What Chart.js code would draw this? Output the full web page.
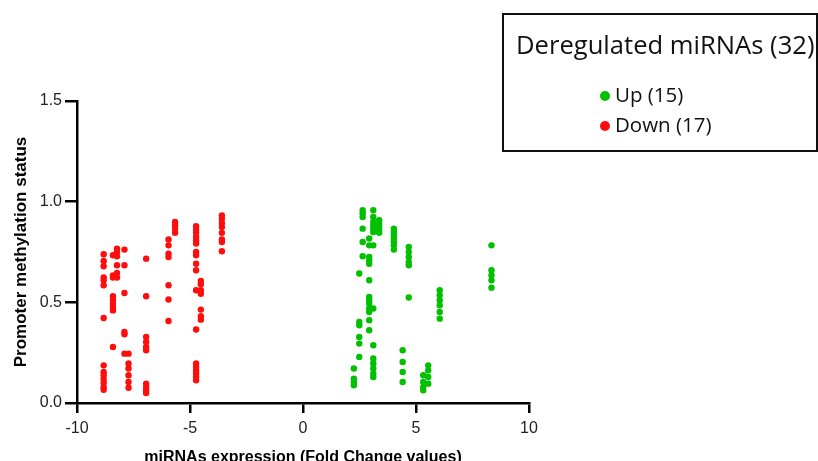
<!DOCTYPE html>
<html lang="en">
<head>
<meta charset="UTF-8">
<title>Deregulated miRNAs</title>
<script src="https://cdn.jsdelivr.net/npm/chart.js"></script>
<style>
  body { margin: 0; background: #fff; overflow: hidden; }
  .wrap { position: relative; width: 818px; height: 461px; }
  .legend-box {
    position: absolute; left: 502px; top: 13px;
    width: 312px; height: 135px;
    border: 2px solid #111;
    font-family: "Open Sans", sans-serif; color: #111;
  }
  .legend-title {
    position: absolute; left: 12px; top: 17px;
    font-size: 25.6px; line-height: 25px; white-space: nowrap;
  }
  .legend-item {
    position: absolute; left: 96px; height: 20px;
    font-size: 20.5px; line-height: 20px; white-space: nowrap;
    padding-left: 15px;
  }
  .legend-item .dot {
    position: absolute; left: 0; top: 7px;
    width: 10px; height: 10px; border-radius: 50%;
  }
</style>
</head>
<body>
<div class="wrap">
  <canvas id="grafico" width="818" height="461"></canvas>
  <div class="legend-box" id="legenda">
    <div class="legend-title">Deregulated miRNAs (32)</div>
  </div>
</div>

<script>
// fold change de cada miRNA (uma coluna de pontos por miRNA)
const downFC = [-8.82, -8.41, -8.23, -7.90, -7.72, -6.94, -5.95, -5.66, -4.73, -4.52, -3.59];
const downMeth = [
  [0.739, 0.705, 0.679, 0.623, 0.610, 0.585, 0.422, 0.187, 0.154, 0.138, 0.118, 0.099, 0.079, 0.066],
  [0.734, 0.634, 0.623, 0.530, 0.514, 0.494, 0.477, 0.460, 0.278],
  [0.767, 0.750, 0.729, 0.684, 0.646, 0.623],
  [0.762, 0.684, 0.546, 0.353, 0.341, 0.245],
  [0.245, 0.196, 0.171, 0.138, 0.104, 0.076],
  [0.717, 0.530, 0.328, 0.303, 0.278, 0.262, 0.096, 0.079, 0.063, 0.050],
  [0.812, 0.783, 0.742, 0.725, 0.585, 0.514, 0.407],
  [0.899, 0.883, 0.866, 0.845],
  [0.878, 0.861, 0.845, 0.825, 0.808, 0.792, 0.750, 0.734, 0.692, 0.659, 0.560, 0.365, 0.196, 0.179, 0.162, 0.146, 0.129, 0.113],
  [0.606, 0.590, 0.560, 0.543, 0.464, 0.431, 0.414],
  [0.932, 0.916, 0.894, 0.874, 0.845, 0.812, 0.800, 0.754]
];

const upFC = [2.25, 2.49, 2.64, 2.93, 3.11, 3.37, 4.02, 4.41, 4.68, 5.32, 5.54, 6.05, 8.34];
const upMeth = [
  [0.171, 0.121, 0.104, 0.088],
  [0.643, 0.402, 0.386, 0.328, 0.295, 0.229],
  [0.957, 0.941, 0.924, 0.866, 0.800, 0.729],
  [0.817, 0.783, 0.725, 0.709, 0.692, 0.610, 0.527, 0.510, 0.494, 0.469, 0.452, 0.411, 0.361],
  [0.957, 0.924, 0.899, 0.883, 0.866, 0.849, 0.783, 0.469, 0.287, 0.221, 0.196, 0.171, 0.146, 0.129],
  [0.908, 0.891, 0.874, 0.858, 0.845],
  [0.866, 0.849, 0.833, 0.817, 0.800, 0.783, 0.762],
  [0.262, 0.204, 0.154, 0.104],
  [0.775, 0.750, 0.725, 0.700, 0.684, 0.524],
  [0.138, 0.104, 0.079, 0.063],
  [0.187, 0.162, 0.129, 0.096],
  [0.560, 0.535, 0.510, 0.485, 0.452, 0.419],
  [0.783, 0.659, 0.634, 0.610, 0.573]
];

const xTicks = [-10, -5, 0, 5, 10];
const yTicks = [0, 0.5, 1.0, 1.5];
const seriesLabels = ['Up (15)', 'Down (17)'];

const verde = '#00c000';
const vermelho = '#ff0d0d';
const fonte = '"Liberation Sans", Arial, sans-serif';

function pontos(fc, meth) {
  const out = [];
  fc.forEach((x, i) => meth[i].forEach(y => out.push({ x: x, y: y })));
  return out;
}

const ctx = document.getElementById('grafico').getContext('2d');

const grafico = new Chart(ctx, {
  type: 'scatter',
  data: {
    datasets: [
      { label: seriesLabels[0], data: pontos(upFC, upMeth), backgroundColor: verde, pointRadius: 3.2, borderWidth: 0 },
      { label: seriesLabels[1], data: pontos(downFC, downMeth), backgroundColor: vermelho, pointRadius: 3.2, borderWidth: 0 }
    ]
  },
  options: {
    responsive: false,
    animation: false,
    devicePixelRatio: 1,
    layout: { padding: { top: 101, right: 289, left: 0, bottom: 0 } },
    plugins: { legend: { display: false }, tooltip: { enabled: false } },
    scales: {
      x: {
        type: 'linear',
        min: xTicks[0],
        max: xTicks[xTicks.length - 1],
        afterBuildTicks: s => { s.ticks = xTicks.map(v => ({ value: v })); },
        afterFit: s => { s.height = 58; },
        ticks: { color: '#222', padding: 6, font: { family: fonte, size: 16 } },
        grid: { drawOnChartArea: false, tickLength: 10, color: '#000', lineWidth: 2.5 },
        border: { color: '#000', width: 2.5 },
        title: {
          display: true,
          text: 'miRNAs expression (Fold Change values)',
          color: '#000',
          font: { family: fonte, size: 16, weight: 'bold' },
          padding: { top: 0, bottom: -6 }
        }
      },
      y: {
        min: yTicks[0],
        max: yTicks[yTicks.length - 1],
        afterBuildTicks: s => { s.ticks = yTicks.map(v => ({ value: v })); },
        afterFit: s => { s.width = 77; },
        ticks: { color: '#222', padding: 3, font: { family: fonte, size: 16 }, callback: v => v.toFixed(1) },
        grid: { drawOnChartArea: false, tickLength: 12, color: '#000', lineWidth: 2.5 },
        border: { color: '#000', width: 2.5 },
        title: {
          display: true,
          text: 'Promoter methylation status',
          color: '#000',
          font: { family: fonte, size: 17, weight: 'bold' },
          padding: { top: 11, bottom: 0 }
        }
      }
    }
  }
});

// legenda em caixa, montada a partir dos datasets
const caixa = document.getElementById('legenda');
grafico.data.datasets.forEach((ds, i) => {
  const item = document.createElement('div');
  item.className = 'legend-item';
  item.style.top = (69 + i * 30) + 'px';
  item.innerHTML = '<span class="dot" style="background:' + ds.backgroundColor + '"></span>' + ds.label;
  caixa.appendChild(item);
});
</script>
</body>
</html>
